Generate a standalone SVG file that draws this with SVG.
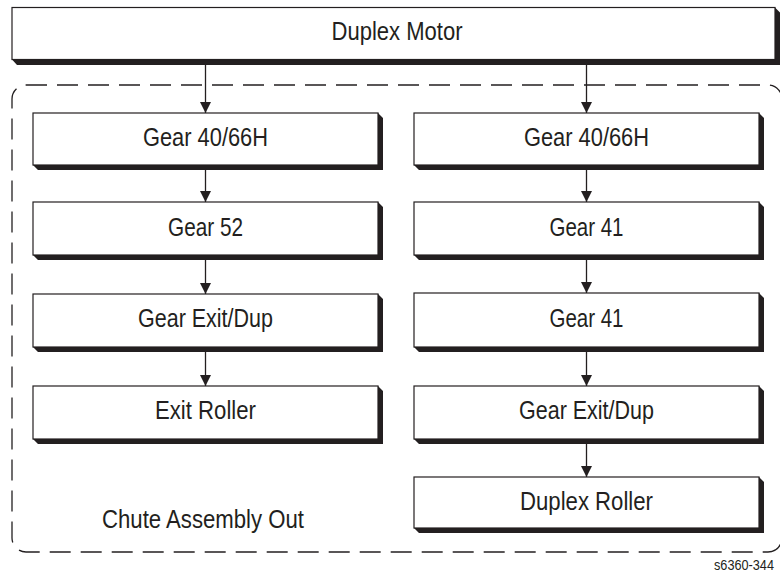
<svg xmlns="http://www.w3.org/2000/svg" width="780" height="576" viewBox="0 0 780 576">
<style>
.box{fill:#fff;stroke:#231f20;stroke-width:1.2}
.sh{fill:#231f20}
.t{font-family:"Liberation Sans",Arial,sans-serif;font-size:26px;fill:#231f20;text-anchor:middle}
.c{stroke:#231f20;stroke-width:1.3;fill:none;marker-end:url(#ah)}
.grp{fill:none;stroke:#231f20;stroke-width:1.3;stroke-dasharray:21 10}
</style>
<defs>
<marker id="ah" markerUnits="userSpaceOnUse" markerWidth="12" markerHeight="12" refX="11" refY="5.5" orient="auto">
<path d="M0,0 L11,5.5 L0,11 z" fill="#231f20"/>
</marker>
</defs>
<rect width="780" height="576" fill="#fff"/>
<g id="group-chute">
<rect class="grp" x="12" y="85" width="770" height="467" rx="14"/>
<text class="t" x="203" y="528" textLength="202" lengthAdjust="spacingAndGlyphs">Chute Assembly Out</text>
</g>
<g id="duplex-motor">
<polygon class="sh" points="12,59.5 17,65 780,65 780,12.5 775,7.5 775,59.5"/>
<rect class="box" x="12" y="7.5" width="763" height="52"/>
<text class="t" x="397" y="40" textLength="131" lengthAdjust="spacingAndGlyphs">Duplex Motor</text>
</g>
<g id="l1">
<polygon class="sh" points="33,165 38,170 383,170 383,118 378,113 378,165"/>
<rect class="box" x="33" y="113" width="345" height="52"/>
<text class="t" x="205.5" y="146" textLength="125" lengthAdjust="spacingAndGlyphs">Gear 40/66H</text>
</g>
<g id="l2">
<polygon class="sh" points="33,255 38,260 383,260 383,207 378,202 378,255"/>
<rect class="box" x="33" y="202" width="345" height="53"/>
<text class="t" x="205.5" y="236" textLength="75" lengthAdjust="spacingAndGlyphs">Gear 52</text>
</g>
<g id="l3">
<polygon class="sh" points="33,347 38,352 383,352 383,299 378,294 378,347"/>
<rect class="box" x="33" y="294" width="345" height="53"/>
<text class="t" x="205.5" y="327" textLength="135" lengthAdjust="spacingAndGlyphs">Gear Exit/Dup</text>
</g>
<g id="l4">
<polygon class="sh" points="33,439 38,444 383,444 383,391 378,386 378,439"/>
<rect class="box" x="33" y="386" width="345" height="53"/>
<text class="t" x="205.5" y="419" textLength="101" lengthAdjust="spacingAndGlyphs">Exit Roller</text>
</g>
<g id="r1">
<polygon class="sh" points="414,165 419,170 764,170 764,118 759,113 759,165"/>
<rect class="box" x="414" y="113" width="345" height="52"/>
<text class="t" x="586.5" y="146" textLength="125" lengthAdjust="spacingAndGlyphs">Gear 40/66H</text>
</g>
<g id="r2">
<polygon class="sh" points="414,255 419,260 764,260 764,207 759,202 759,255"/>
<rect class="box" x="414" y="202" width="345" height="53"/>
<text class="t" x="586.5" y="236" textLength="74" lengthAdjust="spacingAndGlyphs">Gear 41</text>
</g>
<g id="r3">
<polygon class="sh" points="414,347 419,352 764,352 764,298 759,293 759,347"/>
<rect class="box" x="414" y="293" width="345" height="54"/>
<text class="t" x="586.5" y="327" textLength="74" lengthAdjust="spacingAndGlyphs">Gear 41</text>
</g>
<g id="r4">
<polygon class="sh" points="414,439 419,444 764,444 764,391 759,386 759,439"/>
<rect class="box" x="414" y="386" width="345" height="53"/>
<text class="t" x="586.5" y="419" textLength="135" lengthAdjust="spacingAndGlyphs">Gear Exit/Dup</text>
</g>
<g id="r5">
<polygon class="sh" points="414,528 419,533 764,533 764,482 759,477 759,528"/>
<rect class="box" x="414" y="477" width="345" height="51"/>
<text class="t" x="586.5" y="510" textLength="133" lengthAdjust="spacingAndGlyphs">Duplex Roller</text>
</g>
<g id="connectors">
<line class="c" x1="205.5" y1="65" x2="205.5" y2="113"/>
<line class="c" x1="205.5" y1="170" x2="205.5" y2="202"/>
<line class="c" x1="205.5" y1="260" x2="205.5" y2="294"/>
<line class="c" x1="205.5" y1="352" x2="205.5" y2="386"/>
<line class="c" x1="586.5" y1="65" x2="586.5" y2="113"/>
<line class="c" x1="586.5" y1="170" x2="586.5" y2="202"/>
<line class="c" x1="586.5" y1="260" x2="586.5" y2="293"/>
<line class="c" x1="586.5" y1="352" x2="586.5" y2="386"/>
<line class="c" x1="586.5" y1="444" x2="586.5" y2="477"/>
</g>
<text x="714" y="570" textLength="60" lengthAdjust="spacingAndGlyphs" style="font-family:'Liberation Sans',Arial,sans-serif;font-size:14px;fill:#231f20">s6360-344</text>
</svg>
